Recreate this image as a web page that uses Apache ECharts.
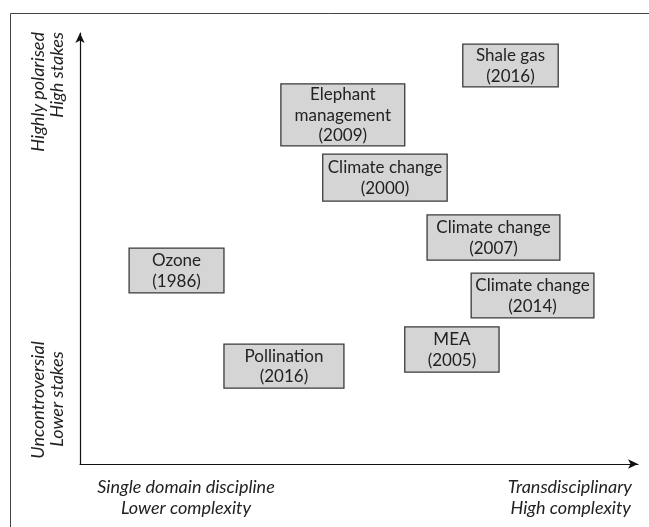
<!DOCTYPE html>
<html>
<head>
<meta charset="utf-8">
<script src="https://cdn.jsdelivr.net/npm/echarts@6/dist/echarts.min.js"></script>
<style>html,body{margin:0;padding:0;background:#fff}#c{width:649px;height:527px}</style>
</head>
<body>
<div id="c"></div>
<script>
// Box labels
const boxLabels = ['Shale gas\n(2016)', 'Elephant\nmanagement\n(2009)', 'Climate change\n(2000)', 'Climate change\n(2007)', 'Climate change\n(2014)', 'Ozone\n(1986)', 'MEA\n(2005)', 'Pollination\n(2016)'];
// Box extents in the chart's 0-10 units: complexity (x) and polarisation (y)
const xStart = [6.86, 3.60, 4.35, 6.22, 7.01, 0.88, 5.82, 2.58];
const xEnd   = [8.57, 5.82, 6.58, 8.60, 9.21, 2.58, 7.51, 4.73];
const yStart = [8.75, 7.38, 6.10, 4.73, 3.39, 3.97, 2.13, 1.76];
const yEnd   = [9.74, 8.82, 7.19, 5.78, 4.43, 5.01, 3.18, 2.78];
// Axis end labels
const xAxisLow = ['Single domain discipline', 'Lower complexity'];
const xAxisHigh = ['Transdisciplinary', 'High complexity'];
const yAxisHigh = ['Highly polarised', 'High stakes'];
const yAxisLow = ['Uncontroversial', 'Lower stakes'];

const data = boxLabels.map((l, i) => [xStart[i], xEnd[i], yStart[i], yEnd[i], l]);
const FONT = 'Lato';
const labelStyle = { fontFamily: FONT, fontStyle: 'italic', fontSize: 18, fill: '#222' };

const chart = echarts.init(document.getElementById('c'), null, { renderer: 'canvas' });
chart.setOption({
  animation: false,
  backgroundColor: '#fff',
  grid: { left: 80, right: 11, top: 33, bottom: 63 },
  xAxis: {
    type: 'value', min: 0, max: 10,
    axisLine: { show: true, symbol: ['none', 'arrow'], symbolSize: [7, 10], lineStyle: { color: '#111', width: 1.2 } },
    axisTick: { show: false }, axisLabel: { show: false }, splitLine: { show: false }
  },
  yAxis: {
    type: 'value', min: 0, max: 10,
    axisLine: { show: true, symbol: ['none', 'arrow'], symbolSize: [7, 10], lineStyle: { color: '#111', width: 1.2 } },
    axisTick: { show: false }, axisLabel: { show: false }, splitLine: { show: false }
  },
  series: [{
    type: 'custom',
    data: data,
    encode: { x: [0, 1], y: [2, 3] },
    renderItem: function (params, api) {
      const p0 = api.coord([api.value(0), api.value(3)]);
      const p1 = api.coord([api.value(1), api.value(2)]);
      const label = boxLabels[params.dataIndex];
      return {
        type: 'group',
        children: [{
          type: 'rect',
          shape: { x: p0[0], y: p0[1], width: p1[0] - p0[0], height: p1[1] - p0[1] },
          style: { fill: '#d5d5d6', stroke: '#3a3a3a', lineWidth: 1.3 }
        }, {
          type: 'text',
          x: (p0[0] + p1[0]) / 2, y: (p0[1] + p1[1]) / 2 + 0.5,
          style: { text: label, fontFamily: FONT, fontSize: 17, lineHeight: 20.5, fill: '#222', align: 'center', verticalAlign: 'middle' }
        }]
      };
    }
  }],
  graphic: [
    { type: 'polyline', shape: { points: [[10.5, 527], [10.5, 13.5], [649, 13.5]] }, style: { stroke: '#444', lineWidth: 1, fill: null } },
    { type: 'text', x: 186, y: 487, style: Object.assign({ text: xAxisLow[0], align: 'center', verticalAlign: 'middle' }, labelStyle) },
    { type: 'text', x: 186, y: 508, style: Object.assign({ text: xAxisLow[1], align: 'center', verticalAlign: 'middle' }, labelStyle) },
    { type: 'text', x: 632, y: 487, style: Object.assign({ text: xAxisHigh[0], align: 'right', verticalAlign: 'middle' }, labelStyle) },
    { type: 'text', x: 631, y: 508, style: Object.assign({ text: xAxisHigh[1], align: 'right', verticalAlign: 'middle' }, labelStyle) },
    { type: 'text', x: 38, y: 32, rotation: Math.PI / 2, style: Object.assign({ text: yAxisHigh[0], align: 'right', verticalAlign: 'middle' }, labelStyle) },
    { type: 'text', x: 57, y: 32, rotation: Math.PI / 2, style: Object.assign({ text: yAxisHigh[1], align: 'right', verticalAlign: 'middle' }, labelStyle) },
    { type: 'text', x: 38, y: 400, rotation: Math.PI / 2, style: Object.assign({ text: yAxisLow[0], align: 'center', verticalAlign: 'middle' }, labelStyle) },
    { type: 'text', x: 57, y: 399, rotation: Math.PI / 2, style: Object.assign({ text: yAxisLow[1], align: 'center', verticalAlign: 'middle' }, labelStyle) }
  ]
});
</script>
</body>
</html>
